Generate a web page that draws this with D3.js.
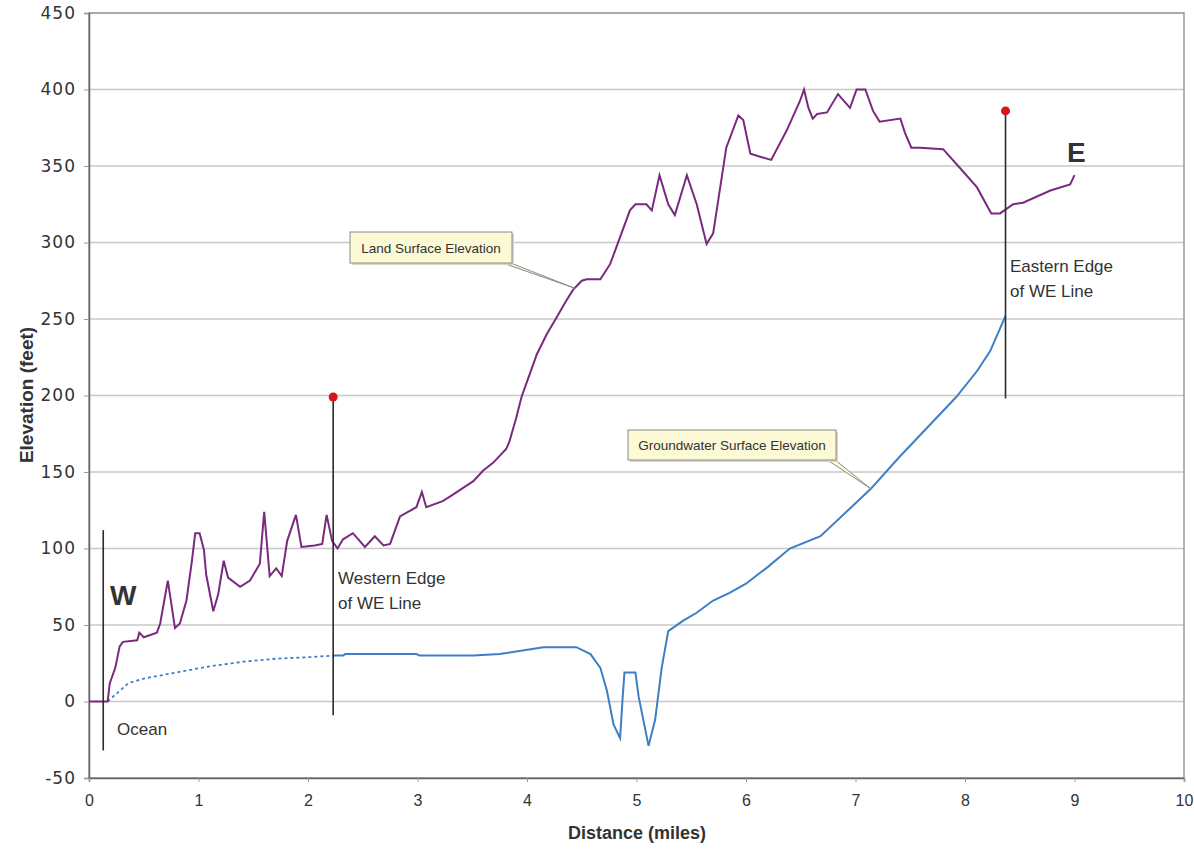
<!DOCTYPE html>
<html>
<head>
<meta charset="utf-8">
<script src="https://cdn.jsdelivr.net/npm/d3@7"></script>
<style>
body { margin: 0; background: #fff; }
svg { font-family: "Liberation Sans", Arial, sans-serif; }
</style>
</head>
<body>
<svg width="1194" height="849"></svg>
<script>
// distance (miles), elevation (feet)
var xTicks = [0, 1, 2, 3, 4, 5, 6, 7, 8, 9, 10];
var yTicks = [-50, 0, 50, 100, 150, 200, 250, 300, 350, 400, 450];

var landSurface = [
  [0,0],[0.17,0],[0.19,12],[0.24,22],[0.28,36],[0.31,39],[0.44,40],[0.46,45],[0.5,42],[0.62,45],
  [0.65,51],[0.72,79],[0.785,48],[0.83,51],[0.89,66],[0.94,92],[0.97,110],[1.01,110],[1.05,99],
  [1.07,83],[1.135,59],[1.18,70],[1.23,92],[1.27,81],[1.38,75],[1.47,79],[1.56,90],[1.6,124],
  [1.65,82],[1.71,87],[1.76,82],[1.81,105],[1.89,122],[1.94,101],[2.06,102],[2.13,103],[2.17,122],
  [2.22,105],[2.27,100],[2.32,106],[2.41,110],[2.52,101],[2.61,108],[2.69,102],[2.75,103],[2.84,121],
  [2.99,127],[3.04,137],[3.08,127],[3.23,131],[3.32,135],[3.51,144],[3.6,151],[3.69,156],[3.81,165],
  [3.84,170],[3.9,185],[3.95,199],[4.02,213],[4.09,227],[4.18,240],[4.27,251],[4.35,261],[4.42,269],
  [4.5,275],[4.545,276],[4.67,276],[4.76,286],
  [4.94,321],[4.99,325],[5.09,325],[5.14,321],[5.21,344],[5.29,325],[5.35,318],[5.46,344],[5.55,325],
  [5.64,299],[5.7,306],[5.82,362],[5.93,383],[5.975,380],[6.04,358],[6.13,356],[6.23,354],[6.37,373],
  [6.49,392],[6.53,400],[6.57,388],[6.61,381],[6.65,384],[6.74,385],[6.84,397],[6.95,388],[7.01,400],
  [7.09,400],[7.16,386],[7.22,379],[7.41,381],[7.45,372],[7.51,362],[7.59,362],[7.8,361],[7.95,349],
  [8.11,336],[8.24,319],[8.32,319],[8.44,325],[8.53,326],[8.78,334],[8.96,338],[9.0,344]
];

// dotted (inferred) part of the groundwater surface
var groundwaterInferred = [
  [0.17,0],[0.36,12],[0.5,15],[0.8,19],[1.1,23],[1.41,26],[1.71,28],[2.02,29],[2.23,30]
];

var groundwaterMeasured = [
  [2.23,30],[2.32,30],[2.34,31],[2.99,31],[3.02,30],[3.51,30],[3.75,31],[4.15,35.5],[4.45,35.5],
  [4.58,31],[4.67,22],[4.73,7],[4.79,-15],[4.85,-24],[4.874,3],[4.89,19],[4.99,19],[5.02,3],
  [5.11,-29],[5.17,-12],[5.23,22],[5.29,46],[5.43,53],[5.55,58],[5.7,66],[5.85,71],[6.0,77],
  [6.2,88],[6.4,100],[6.68,108],[7.14,139],[7.39,159],[7.92,199],[8.11,216],[8.23,229],[8.37,252]
];

// vertical marker lines: x, bottom, top, has red dot
var markerX = [0.13, 2.23, 8.37];
var markerBottom = [-32, -9, 198];
var markerTop = [112, 199, 386];
var markerDot = [false, true, true];

var svg = d3.select("svg");

var x = d3.scaleLinear().domain([0, 10]).range([89, 1184]);
var y = d3.scaleLinear().domain([-50, 450]).range([778, 13]);

// gridlines
svg.append("g")
  .selectAll("line")
  .data(yTicks)
  .enter().append("line")
  .attr("x1", x(0))
  .attr("x2", x(10))
  .attr("y1", function(d) { return y(d); })
  .attr("y2", function(d) { return y(d); })
  .style("stroke", "#c8c8c8")
  .style("stroke-width", 1.5);

// plot frame
svg.append("rect")
  .attr("x", x(0))
  .attr("y", y(450))
  .attr("width", x(10) - x(0))
  .attr("height", y(-50) - y(450))
  .style("fill", "none")
  .style("stroke", "#9a9a9a")
  .style("stroke-width", 1.5);

var yAxis = svg.append("g")
  .attr("transform", "translate(" + x(0) + ",0)")
  .call(d3.axisLeft(y).tickValues(yTicks).tickFormat(function(d) { return String(d); })
    .tickSize(5).tickPadding(8));
yAxis.select(".domain").style("stroke", "#666").style("stroke-width", 1.5);
yAxis.selectAll(".tick line").style("stroke", "#999");
yAxis.selectAll("text")
  .style("font-family", "'DejaVu Sans', sans-serif")
  .style("font-size", "17px")
  .style("letter-spacing", "1px")
  .style("fill", "#333");

var xAxis = svg.append("g")
  .attr("transform", "translate(0," + y(-50) + ")")
  .call(d3.axisBottom(x).tickValues(xTicks).tickSize(4).tickPadding(13));
xAxis.select(".domain").style("stroke", "#666").style("stroke-width", 1.5);
xAxis.selectAll(".tick line").style("stroke", "#999");
xAxis.selectAll("text")
  .style("font-family", "'Liberation Sans Narrow', 'Liberation Sans', sans-serif")
  .style("font-size", "16px")
  .style("fill", "#333");

// axis titles
svg.append("text")
  .text("Distance (miles)")
  .attr("x", 637)
  .attr("y", 839)
  .attr("text-anchor", "middle")
  .style("font-family", "'Liberation Sans Narrow', 'Liberation Sans', sans-serif")
  .style("font-weight", "bold")
  .style("font-size", "18px")
  .style("fill", "#333");

svg.append("text")
  .text("Elevation (feet)")
  .attr("transform", "translate(33,395)rotate(-90)")
  .attr("text-anchor", "middle")
  .style("font-family", "'Liberation Sans Narrow', 'Liberation Sans', sans-serif")
  .style("font-weight", "bold")
  .style("font-size", "19px")
  .style("fill", "#333");

var line = d3.line()
  .x(function(d) { return x(d[0]); })
  .y(function(d) { return y(d[1]); });

svg.append("path")
  .datum(groundwaterInferred)
  .attr("d", line)
  .style("fill", "none")
  .style("stroke", "#3d7fc6")
  .style("stroke-width", 1.8)
  .style("stroke-dasharray", "3,3");

svg.append("path")
  .datum(groundwaterMeasured)
  .attr("d", line)
  .style("fill", "none")
  .style("stroke", "#3d7fc6")
  .style("stroke-width", 2);

svg.append("path")
  .datum(landSurface)
  .attr("d", line)
  .style("fill", "none")
  .style("stroke", "#7a2a7e")
  .style("stroke-width", 2);

// markers
var markers = markerX.map(function(d, i) {
  return { x: d, y0: markerBottom[i], y1: markerTop[i], dot: markerDot[i] };
});

svg.append("g")
  .selectAll("line")
  .data(markers)
  .enter().append("line")
  .attr("x1", function(d) { return x(d.x); })
  .attr("x2", function(d) { return x(d.x); })
  .attr("y1", function(d) { return y(d.y0); })
  .attr("y2", function(d) { return y(d.y1); })
  .style("stroke", "#2a2a2a")
  .style("stroke-width", 1.6);

svg.append("g")
  .selectAll("circle")
  .data(markers.filter(function(d) { return d.dot; }))
  .enter().append("circle")
  .attr("cx", function(d) { return x(d.x); })
  .attr("cy", function(d) { return y(d.y1); })
  .attr("r", 4.5)
  .style("fill", "#d4161d");

// labels
function label(txt, px, py, size, weight) {
  return svg.append("text")
    .text(txt)
    .attr("x", px)
    .attr("y", py)
    .style("font-size", size + "px")
    .style("font-weight", weight || "normal")
    .style("fill", "#333");
}

label("W", 110, 605, 28, "bold");
label("E", 1067, 162, 28, "bold");
label("Ocean", 117, 735, 17);
label("Western Edge", 338, 584, 17);
label("of WE Line", 338, 609, 17);
label("Eastern Edge", 1010, 272, 17);
label("of WE Line", 1010, 297, 17);

// callouts
function callout(txt, bx, by, bw, bh, ax, ay, tx, ty) {
  var g = svg.append("g");
  g.append("polygon")
    .attr("points", [[ax, ay], [ax + 8, ay], [tx, ty]].join(" "))
    .style("fill", "#fbf9d6")
    .style("stroke", "#8a8a8a")
    .style("stroke-width", 1);
  g.append("rect")
    .attr("x", bx + 2)
    .attr("y", by + 2)
    .attr("width", bw)
    .attr("height", bh)
    .style("fill", "#d8d6c0");
  g.append("rect")
    .attr("x", bx)
    .attr("y", by)
    .attr("width", bw)
    .attr("height", bh)
    .style("fill", "#fbf9d6")
    .style("stroke", "#8a8a8a")
    .style("stroke-width", 1);
  g.append("text")
    .text(txt)
    .attr("x", bx + bw / 2)
    .attr("y", by + bh / 2 + 5)
    .attr("text-anchor", "middle")
    .style("font-size", "13.5px")
    .style("fill", "#333");
}

callout("Land Surface Elevation", 350, 232, 162, 31, 500, 262, x(4.44), y(270));
callout("Groundwater Surface Elevation", 628, 430, 208, 30, 826, 459, x(7.14), y(139));
</script>
</body>
</html>
